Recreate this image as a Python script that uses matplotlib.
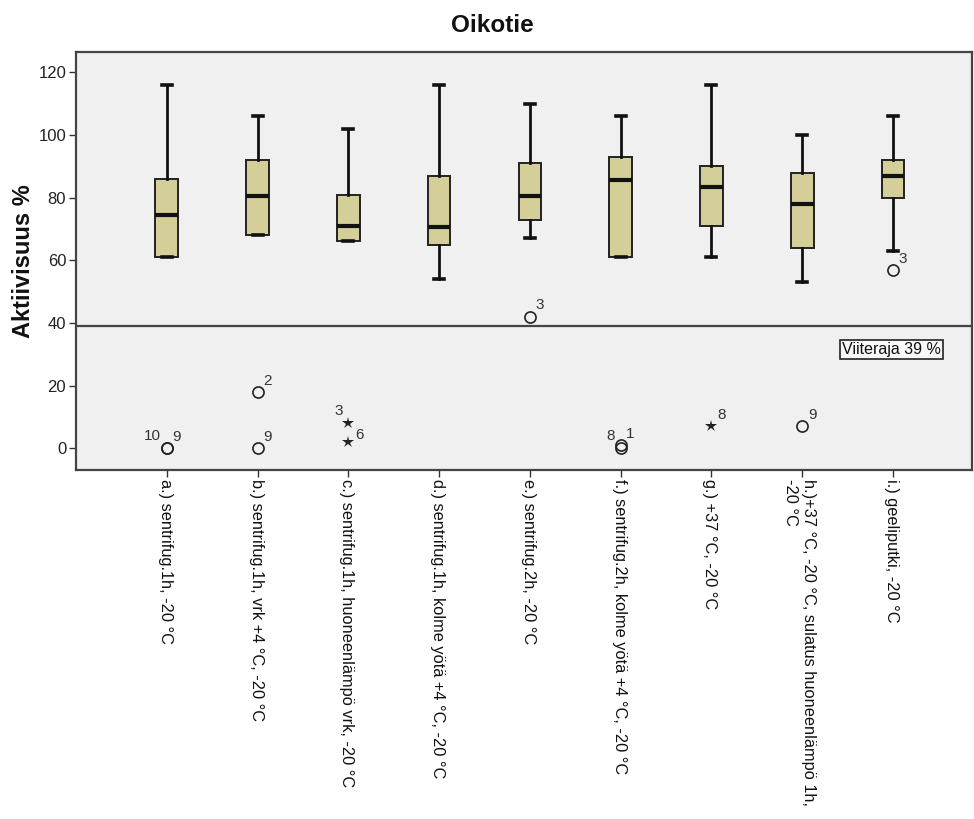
import matplotlib
matplotlib.use("Agg")
import matplotlib.pyplot as plt

plt.rcParams['font.family'] = ['Liberation Sans', 'DejaVu Sans']

categories = [
    "a.) sentrifug.1h, -20 °C",
    "b.) sentrifug.1h, vrk +4 °C, -20 °C",
    "c.) sentrifug.1h, huoneenlämpö vrk, -20 °C",
    "d.) sentrifug.1h, kolme yötä +4 °C, -20 °C",
    "e.) sentrifug.2h, -20 °C",
    "f.) sentrifug.2h, kolme yötä +4 °C, -20 °C",
    "g.) +37 °C, -20 °C",
    "h.)+37 °C, -20 °C, sulatus huoneenlämpö 1h,\n-20 °C",
    "i.) geeliputki, -20 °C",
]
whisker_low = [61, 68, 66, 54, 67, 61, 61, 53, 63]
q1 = [61, 68, 66, 65, 73, 61, 71, 64, 80]
median = [74.5, 80.5, 71, 70.5, 80.5, 85.5, 83.5, 78, 87]
q3 = [86, 92, 81, 87, 91, 93, 90, 88, 92]
whisker_high = [116, 106, 102, 116, 110, 106, 116, 100, 106]

# outliers: category index, value, case label, kind ('o' outlier, '*' extreme)
outlier_cat = [0, 0, 1, 1, 2, 2, 4, 5, 5, 6, 7, 8]
outlier_val = [0, 0, 18, 0, 8, 2, 42, 0, 1, 7, 7, 57]
outlier_lab = ["10", "9", "2", "9", "3", "6", "3", "8", "1", "8", "9", "3"]
outlier_kind = ["o", "o", "o", "o", "*", "*", "o", "o", "o", "*", "o", "o"]
outlier_side = ["l", "r", "r", "r", "l", "rl", "r", "l", "r", "r", "r", "r"]

reference_value = 39
reference_label = "Viiteraja 39 %"
title = "Oikotie"
ylabel = "Aktiivisuus %"
yticks = [0, 20, 40, 60, 80, 100, 120]

fig = plt.figure(figsize=(9.74, 8.19), dpi=100)
ax = fig.add_axes([0.078, 0.426, 0.920, 0.5105])
ax.set_facecolor("#f0f0f0")

positions = list(range(1, len(categories) + 1))
stats = []
for i in range(len(categories)):
    stats.append(dict(med=median[i], q1=q1[i], q3=q3[i],
                      whislo=whisker_low[i], whishi=whisker_high[i], fliers=[]))

ax.bxp(stats, positions=positions, widths=0.25, patch_artist=True,
       showfliers=False, capwidths=0.11,
       boxprops=dict(facecolor="#d4cf98", edgecolor="#222222", linewidth=1.4),
       medianprops=dict(color="#111111", linewidth=3),
       whiskerprops=dict(color="#111111", linewidth=2),
       capprops=dict(color="#111111", linewidth=2.6))

ax.axhline(reference_value, color="#444444", linewidth=1.6, zorder=1)
ax.text(8.98, 31.5, reference_label, fontsize=11.5, ha="center", va="center",
        color="#111111",
        bbox=dict(boxstyle="square,pad=0.12", facecolor="#f8f8f8",
                  edgecolor="#222222", linewidth=1.2))

for c, v, lab, k, side in zip(outlier_cat, outlier_val, outlier_lab,
                              outlier_kind, outlier_side):
    x = positions[c]
    if k == "o":
        ax.plot(x, v, marker="o", markersize=8, markerfacecolor="none",
                markeredgecolor="#222222", markeredgewidth=1.2, zorder=3)
    else:
        ax.plot(x, v, marker="*", markersize=9, color="#222222",
                markeredgewidth=0, zorder=3)
    if side == "r":
        ax.annotate(lab, (x, v), xytext=(4, 3), textcoords="offset points",
                    fontsize=11, color="#333333", ha="left", va="bottom")
    elif side == "l":
        ax.annotate(lab, (x, v), xytext=(-4, 4), textcoords="offset points",
                    fontsize=11, color="#333333", ha="right", va="bottom")
    else:
        ax.annotate(lab, (x, v), xytext=(5, 5), textcoords="offset points",
                    fontsize=11, color="#333333", ha="left", va="center")

ax.set_xlim(0, 9.87)
ax.set_ylim(-7, 126.5)
ax.set_yticks(yticks)
ax.set_yticklabels([str(t) for t in yticks], fontsize=12, color="#222222")
ax.set_xticks(positions)
ax.set_xticklabels(categories, fontsize=11.8, color="#111111", rotation=270,
                   rotation_mode="anchor", ha="left", va="center_baseline")
ax.tick_params(axis="x", length=5, width=1, color="#333333", pad=1.5)
ax.tick_params(axis="y", length=5, width=1, color="#333333", pad=2)
for s in ax.spines.values():
    s.set_color("#444444")
    s.set_linewidth(1.6)

fig.text(0.024, 0.681, ylabel, rotation=90, ha="center", va="center",
         fontsize=17, fontweight="bold", color="#111111")
fig.text(0.506, 0.969, title, ha="center", va="center",
         fontsize=17.5, fontweight="bold", color="#111111")

fig.savefig("out.png", dpi=100)
